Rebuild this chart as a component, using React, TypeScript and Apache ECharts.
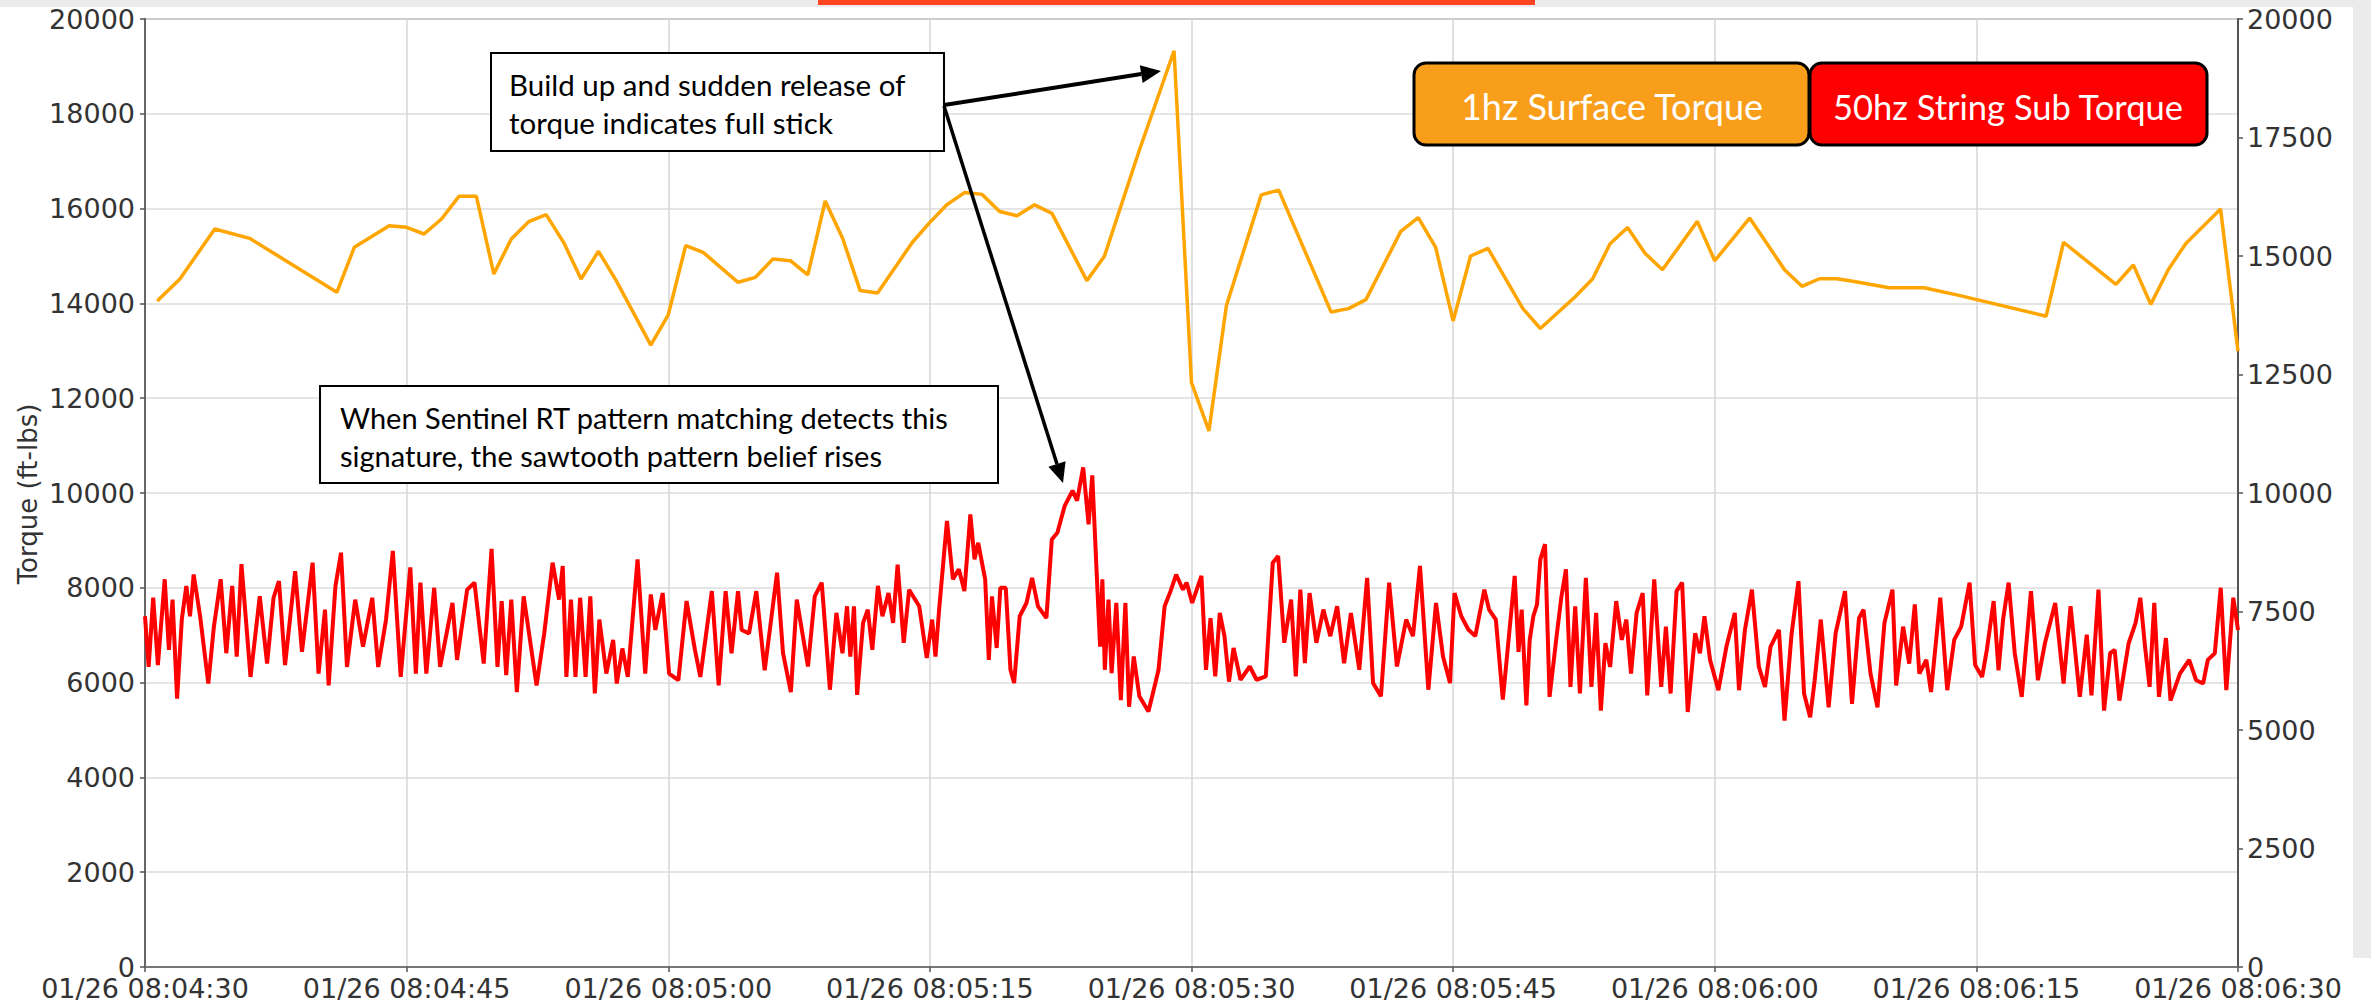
import React, { useEffect, useRef } from "react";
import * as echarts from "echarts";

// ---- x axis (seconds after 01/26 08:04:30) ----
const xTickLabels = [
  "01/26 08:04:30", "01/26 08:04:45", "01/26 08:05:00", "01/26 08:05:15", "01/26 08:05:30",
  "01/26 08:05:45", "01/26 08:06:00", "01/26 08:06:15", "01/26 08:06:30",
];

// ---- 1 Hz surface torque ----
const orangeT = [0.7, 2, 4, 6, 11, 12, 14, 15, 16, 17, 18, 19, 20, 21, 22, 23, 24, 25, 26, 27, 29, 30, 31, 32, 34,
  35, 36, 37, 38, 39, 40, 41, 42, 44, 45, 46, 47, 48, 49, 50, 51, 52, 54, 55, 57, 59, 60, 61, 62, 64, 65, 68, 69, 70, 72,
  73, 74, 75, 76, 77, 79, 80, 82, 83, 84, 85, 86, 87, 89, 90, 92, 93, 94, 95, 96, 97, 98, 100, 102, 104, 109, 110, 113,
  114, 115, 116, 117, 119, 120];
const orangeV = [14050, 14515, 15570, 15373, 14234, 15183, 15640, 15605, 15464, 15780, 16259, 16259, 14620, 15359, 15724,
  15872, 15288, 14515, 15099, 14490, 13120, 13760, 15218, 15078, 14445, 14550, 14937, 14902, 14600, 16160, 15370, 14270,
  14220, 15290, 15710, 16090, 16340, 16300, 15940, 15850, 16080, 15900, 14480, 14990, 17220, 19330, 12330, 11310, 13950,
  16290, 16390, 13820, 13890, 14080, 15520, 15810, 15180, 13630, 15000, 15160, 13890, 13470, 14140, 14520, 15260, 15600,
  15060, 14710, 15730, 14900, 15800, 15260, 14710, 14360, 14520, 14520, 14460, 14330, 14330, 14170, 13730, 15290, 14400,
  14810, 13980, 14710, 15260, 15990, 12990];

// ---- 50 Hz string sub torque (peaks and troughs) ----
const redPart1 = [[0.00,7400],[0.21,6330],[0.47,7790],[0.74,6370],[1.13,8180],[1.37,6690],[1.58,7750],[1.84,5660],[2.11,7330],[2.37,8040],[2.58,7400],[2.79,8280],[3.16,7400],[3.63,5980],[3.95,7180],[4.34,8180],[4.66,6620],[5.00,8040],[5.26,6550],[5.53,8500],[6.05,6120],[6.58,7820],[7.00,6400],[7.37,7790],[7.68,8140],[8.03,6370],[8.61,8350],[9.00,6650],[9.61,8530],[9.95,6190],[10.32,7540],[10.53,5940],[10.92,8040],[11.24,8740],[11.58,6330],[12.05,7750],[12.50,6760],[13.03,7790],[13.37,6330],[13.82,7330],[14.21,8780],[14.66,6120],[15.21,8430],[15.53,6190],[15.79,8110],[16.13,6190],[16.58,8000],[16.92,6330],[17.63,7680],[17.89,6480],[18.47,7960],[18.89,8110],[19.42,6400],[19.87,8820],[20.21,6330],[20.45,7720],[20.71,6160],[21.00,7750],[21.32,5800],[21.71,7820],[22.45,5940],[22.89,7040],[23.37,8530],[23.74,7750],[23.95,8460],[24.16,6120],[24.42,7750],[24.68,6120],[24.95,7790],[25.26,6120],[25.53,7820],[25.79,5770],[26.05,7330],[26.45,6190],[26.84,6900],[27.05,5980],[27.37,6720],[27.68,6120],[28.24,8600],[28.68,6190],[29.00,7860],[29.26,7110],[29.68,7890],[30.05,6190],[30.58,6050],[31.05,7720],[31.53,6690],[31.84,6120],[32.50,7930],[32.89,5940],[33.29,7930],[33.63,6620],[34.00,7930],[34.21,7110],[34.63,7040],[35.05,7930],[35.53,6260],[36.24,8320],[36.58,6620],[37.03,5800],[37.37,7750]];
const redPart2 = [[38.01,6340],[38.40,7820],[38.80,8110],[39.27,5850],[39.64,7470],[39.99,6620],[40.25,7610],[40.44,6550],[40.65,7610],[40.83,5740],[41.17,7260],[41.44,7540],[41.70,6690],[42.02,8040],[42.28,7400],[42.63,7890],[42.89,7260],[43.15,8490],[43.50,6840],[43.81,7960],[44.39,7610],[44.82,6520],[45.13,7330],[45.32,6550],[45.53,7540],[45.98,9410],[46.32,8180],[46.66,8390],[46.98,7930],[47.32,9550],[47.56,8600],[47.77,8950],[48.17,8180],[48.38,6480],[48.56,7820],[48.83,6730],[49.04,8000],[49.35,8000],[49.62,6270],[49.83,5990],[50.15,7400],[50.54,7680],[50.86,8210],[51.20,7610],[51.68,7360],[51.99,9020],[52.31,9160],[52.73,9730],[53.18,10050],[53.44,9840],[53.79,10540],[54.10,9340],[54.31,10370],[54.58,8180],[54.76,6760],[54.89,8180],[55.03,6270],[55.24,7750],[55.42,6200],[55.69,7680],[55.95,5630],[56.21,7680],[56.42,5490],[56.69,6550],[57.01,5710],[57.53,5390],[57.93,5990],[58.11,6270],[58.46,7610],[58.80,7930],[59.12,8280],[59.51,7960],[59.72,8110],[60.04,7680],[60.30,7960],[60.57,8250],[60.83,6270],[61.09,7360],[61.36,6130],[61.62,7470],[61.89,6980],[62.15,6020],[62.41,6730],[62.81,6060],[63.34,6340],[63.73,6060],[64.26,6130],[64.66,8530],[64.97,8670],[65.32,6840],[65.71,7750],[65.98,6130],[66.24,7960],[66.50,6410],[66.77,7890],[67.16,6840],[67.56,7540],[67.96,6980],[68.35,7610],[68.75,6410],[69.14,7470],[69.62,6270],[70.07,8210],[70.41,5990],[70.86,5710],[71.33,8110],[71.78,6340],[72.31,7330],[72.70,6980],[73.10,8460],[73.58,5850],[74.02,7680],[74.42,6550],[74.82,5990],[75.08,7890],[75.47,7400],[75.87,7120],[76.27,6980],[76.79,7960],[77.06,7540],[77.45,7330],[77.85,5640]];
const redPart3 = [[78.53,8250],[78.75,6650],[78.93,7540],[79.20,5520],[79.39,6900],[79.60,7400],[79.81,7650],[80.00,8600],[80.27,8920],[80.53,5700],[80.93,6970],[81.20,7790],[81.47,8390],[81.73,5910],[82.00,7610],[82.27,5770],[82.61,8210],[82.93,5910],[83.20,7470],[83.47,5410],[83.73,6830],[84.00,6330],[84.35,7720],[84.67,6900],[84.93,7330],[85.20,6190],[85.52,7470],[85.87,7890],[86.13,5730],[86.53,8180],[86.93,5910],[87.20,7180],[87.47,5770],[87.81,7930],[88.13,8110],[88.45,5380],[88.88,7040],[89.15,6620],[89.41,7400],[89.73,6480],[90.21,5840],[90.67,6760],[91.15,7470],[91.39,5840],[91.73,7110],[92.13,7960],[92.53,6330],[92.88,5910],[93.20,6760],[93.68,7110],[94.00,5200],[94.40,7010],[94.80,8140],[95.12,5770],[95.47,5270],[95.73,6050],[96.08,7330],[96.53,5480],[96.93,7040],[97.47,7930],[97.87,5550],[98.27,7360],[98.53,7540],[98.93,6190],[99.33,5480],[99.73,7260],[100.19,7960],[100.40,5940],[100.80,7180],[101.15,6400],[101.47,7650],[101.73,6190],[102.13,6480],[102.40,5800],[102.93,7790],[103.33,5840],[103.73,6900],[104.13,7180],[104.61,8110],[104.93,6370],[105.33,6120],[105.60,6690],[105.99,7720],[106.27,6260],[106.53,7330],[106.85,8110],[107.20,6620],[107.60,5700],[108.13,7930],[108.53,6050],[108.93,6830],[109.52,7680],[110.00,5980],[110.40,7610],[110.93,5700],[111.33,7010],[111.60,5730],[112.00,7960],[112.32,5410],[112.67,6620],[112.93,6690],[113.20,5620],[113.73,6830],[114.13,7260],[114.40,7790],[114.67,6760],[114.93,5910],[115.20,7680],[115.47,5700],[115.87,6940],[116.13,5620],[116.67,6190],[117.20,6480],[117.60,6050],[118.00,5980],[118.27,6480],[118.67,6620],[119.01,8000],[119.33,5840],[119.73,7790],[120.00,7110]];

const legendLabels = ["1hz Surface Torque", "50hz String Sub Torque"];
const noteLines1 = ["Build up and sudden release of", "torque indicates full stick"];
const noteLines2 = ["When Sentinel RT pattern matching detects this", "signature, the sawtooth pattern belief rises"];

const TICK_FONT = "DejaVu Sans";
const NOTE_FONT = "Lato";

function arrow(x1: number, y1: number, x2: number, y2: number, lw: number, head: number, half: number) {
  const dx = x2 - x1, dy = y2 - y1;
  const len = Math.sqrt(dx * dx + dy * dy);
  const ux = dx / len, uy = dy / len;
  const bx = x2 - ux * head, by = y2 - uy * head;
  const nx = -uy, ny = ux;
  return [
    { type: "line", z: 100, shape: { x1, y1, x2: bx, y2: by }, style: { stroke: "#000", lineWidth: lw } },
    {
      type: "polygon", z: 100,
      shape: { points: [[x2, y2], [bx + nx * half, by + ny * half], [bx - nx * half, by - ny * half]] },
      style: { fill: "#000" },
    },
  ];
}

function text(x: number, y: number, s: string, size: number, fill: string, align = "left", family = NOTE_FONT) {
  return {
    type: "text", z: 101, x, y,
    style: {
      text: s, x: 0, y: 0, fill, font: `${size}px ${family}`, fontSize: size, fontFamily: family,
      align, textAlign: align, verticalAlign: "middle", textVerticalAlign: "middle",
    },
  };
}

export default function App() {
  const ref = useRef<HTMLDivElement>(null);
  useEffect(() => {
    if (!ref.current) return;
    const chart = echarts.init(ref.current, null, { renderer: "svg" });
    const orangeData = orangeT.map((t, i) => [t, orangeV[i]]);
    const redData = [...redPart1, ...redPart2, ...redPart3];

    const graphic: any[] = [
      { type: "rect", z: 90, shape: { x: 0, y: 0, width: 2371, height: 7 }, style: { fill: "#ebebeb" } },
      { type: "rect", z: 90, shape: { x: 2353, y: 0, width: 18, height: 958 }, style: { fill: "#ebebeb" } },
      { type: "rect", z: 91, shape: { x: 818, y: 0, width: 717, height: 5 }, style: { fill: "#FF4422" } },
      // note box 1
      { type: "rect", z: 99, shape: { x: 491, y: 53, width: 453, height: 98 }, style: { fill: "#fff", stroke: "#000", lineWidth: 2 } },
      text(509, 84, noteLines1[0], 29.5, "#000"),
      text(509, 122, noteLines1[1], 29.5, "#000"),
      // note box 2
      { type: "rect", z: 99, shape: { x: 320, y: 386, width: 678, height: 97 }, style: { fill: "#fff", stroke: "#000", lineWidth: 2 } },
      text(340, 417, noteLines2[0], 29, "#000"),
      text(340, 455, noteLines2[1], 29, "#000"),
      ...arrow(944, 105, 1161, 71, 4, 20, 9),
      ...arrow(944, 106, 1063, 483, 3.5, 20, 9),
      // legend boxes
      { type: "rect", z: 99, shape: { x: 1414, y: 63, width: 395, height: 82, r: 12 }, style: { fill: "#F89E1B", stroke: "#000", lineWidth: 3 } },
      { type: "rect", z: 99, shape: { x: 1810, y: 63, width: 397, height: 82, r: 12 }, style: { fill: "#FF0000", stroke: "#000", lineWidth: 3 } },
      text(1612, 106, legendLabels[0], 36, "#fff", "center"),
      text(2008, 106, legendLabels[1], 34.5, "#fff", "center"),
      // y axis name
      {
        type: "text", z: 101, x: 28, y: 494, rotation: Math.PI / 2,
        style: {
          text: "Torque (ft-lbs)", x: 0, y: 0, fill: "#333", font: `26px ${TICK_FONT}`, fontSize: 26, fontFamily: TICK_FONT,
          align: "center", textAlign: "center", verticalAlign: "middle", textVerticalAlign: "middle",
        },
      },
    ];

    const plain = (v: number) => String(v);

    chart.setOption({
      animation: false,
      backgroundColor: "#fff",
      textStyle: { fontFamily: TICK_FONT },
      grid: { left: 145, right: 133, top: 19, bottom: 38, show: true, borderColor: "#9a9a9a", borderWidth: 2, containLabel: false },
      xAxis: {
        type: "value", min: 0, max: 120, interval: 15,
        axisLine: { show: true, lineStyle: { color: "#777", width: 2 } },
        axisTick: { show: true, length: 5, lineStyle: { color: "#555", width: 1.5 } },
        axisLabel: {
          fontSize: 27, fontFamily: TICK_FONT, color: "#333", margin: 8, showMinLabel: true, showMaxLabel: true,
          hideOverlap: false, formatter: (v: number) => xTickLabels[Math.round(v / 15)] ?? "",
        },
        splitLine: { show: true, lineStyle: { color: "#d6d6d6", width: 1.5 } },
      },
      yAxis: [
        {
          type: "value", position: "left", min: 0, max: 20000, interval: 2000,
          axisLine: { show: true, lineStyle: { color: "#666", width: 2 } },
          axisTick: { show: true, length: 5, lineStyle: { color: "#555", width: 1.5 } },
          axisLabel: { fontSize: 27, fontFamily: TICK_FONT, color: "#333", margin: 10, formatter: plain },
          splitLine: { show: true, lineStyle: { color: "#dcdcdc", width: 1.5 } },
        },
        {
          type: "value", position: "right", min: 0, max: 20000, interval: 2500,
          axisLine: { show: true, lineStyle: { color: "#555", width: 2 } },
          axisTick: { show: true, length: 5, lineStyle: { color: "#555", width: 1.5 } },
          axisLabel: { fontSize: 27, fontFamily: TICK_FONT, color: "#333", margin: 9, formatter: plain },
          splitLine: { show: false },
        },
      ],
      series: [
        {
          name: legendLabels[0], type: "line", yAxisIndex: 1, data: orangeData, showSymbol: false,
          lineStyle: { color: "#FFA500", width: 3.5 }, itemStyle: { color: "#FFA500" },
        },
        {
          name: legendLabels[1], type: "line", yAxisIndex: 0, data: redData, showSymbol: false,
          lineStyle: { color: "#FF0000", width: 4 }, itemStyle: { color: "#FF0000" },
        },
      ],
      graphic,
    });
    return () => chart.dispose();
  }, []);
  return (
    <div
      ref={ref}
      style={{ position: "fixed", left: 0, top: 0, width: 2371, height: 1005, background: "#fff" }}
    />
  );
}
